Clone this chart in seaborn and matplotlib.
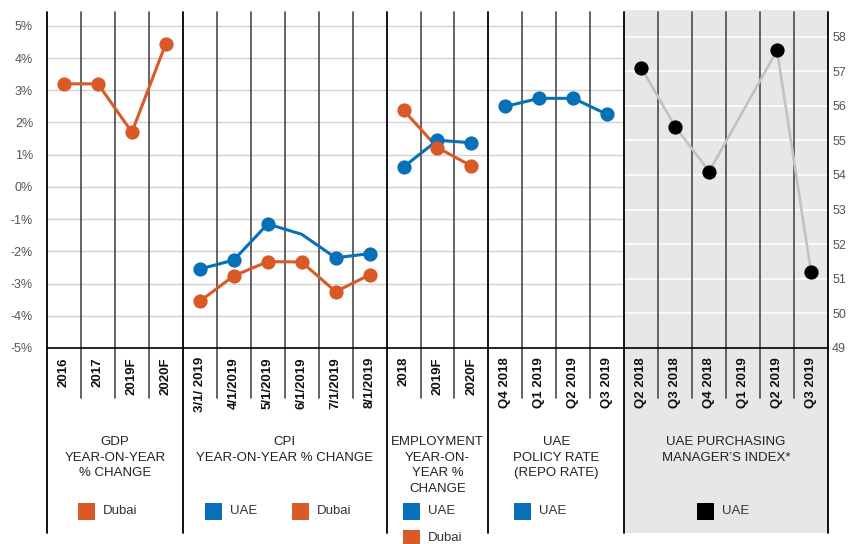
import numpy as np
import pandas as pd
import matplotlib
matplotlib.use("Agg")
import matplotlib.pyplot as plt
from matplotlib.patches import Rectangle
from matplotlib.transforms import blended_transform_factory
import seaborn as sns

# ---- category labels -------------------------------------------------------
gdp_labels = ["2016", "2017", "2019F", "2020F"]
cpi_labels = ["3/1/ 2019", "4/1/2019", "5/1/2019", "6/1/2019", "7/1/2019", "8/1/2019"]
emp_labels = ["2018", "2019F", "2020F"]
policy_labels = ["Q4 2018", "Q1 2019", "Q2 2019", "Q3 2019"]
pmi_labels = ["Q2 2018", "Q3 2018", "Q4 2018", "Q1 2019", "Q2 2019", "Q3 2019"]

# ---- series values (percent, PMI in index points) --------------------------
gdp_dubai = [3.2, 3.2, 1.7, 4.45]
cpi_uae = [-2.55, -2.27, -1.15, -1.47, -2.2, -2.07]
cpi_uae_has_marker = [True, True, True, False, True, True]
cpi_dubai = [-3.55, -2.76, -2.32, -2.33, -3.25, -2.73]
emp_uae = [0.62, 1.45, 1.37]
emp_dubai = [2.38, 1.22, 0.65]
policy_uae = [2.5, 2.75, 2.75, 2.25]
pmi_uae = [57.1, 55.4, 54.1, np.nan, 57.6, 51.2]

group_titles = [
    "GDP\nYEAR-ON-YEAR\n% CHANGE",
    "CPI\nYEAR-ON-YEAR % CHANGE",
    "EMPLOYMENT\nYEAR-ON-\nYEAR %\nCHANGE",
    "UAE\nPOLICY RATE\n(REPO RATE)",
    "UAE PURCHASING\nMANAGER\u2019S INDEX*",
]
left_ticks = list(range(-5, 6))
right_ticks = list(range(49, 59))

ORANGE = "#d95a27"
BLUE = "#0870b8"
BLACK = "#000000"
PANEL = "#e6e7e8"

sns.set_style("white")
plt.rcParams["font.family"] = ["Liberation Sans", "DejaVu Sans"]

W, H = 853, 544
fig = plt.figure(figsize=(W / 100, H / 100), dpi=100)
ax = fig.add_axes([47 / W, 1 - 348 / H, 781 / W, 336 / H])
ax.patch.set_visible(False)
for s in ax.spines.values():
    s.set_visible(False)

groups = [gdp_labels, cpi_labels, emp_labels, policy_labels, pmi_labels]
starts = np.cumsum([0] + [len(g) for g in groups])
all_labels = sum(groups, [])
n = len(all_labels)

ax.set_xlim(-0.5, n - 0.5)
ax.set_ylim(-5, 5.43)

ax2 = ax.twinx()
for s in ax2.spines.values():
    s.set_visible(False)
ax2.set_ylim(49, 58.71)

tr = blended_transform_factory(ax.transData, ax.transAxes)
tr_right = blended_transform_factory(ax.transData, ax2.transData)

def yfrac(py):
    return (348 - py) / 336

# shaded PMI panel
pmi_lo = starts[4] - 0.5
ax.add_patch(Rectangle((pmi_lo, yfrac(533)), n - 0.5 - pmi_lo, 1.006 - yfrac(533),
                       transform=tr, facecolor=PANEL, edgecolor="none",
                       zorder=0, clip_on=False))

# horizontal gridlines
ax.hlines(left_ticks[1:], -0.5, pmi_lo, colors="#d3d3d3", linewidth=1.0, zorder=0.5)
ax.hlines(right_ticks[1:], pmi_lo, n - 0.5, colors="white", linewidth=1.2,
          transform=tr_right, zorder=0.5)

# vertical separators
group_edges = set(s - 0.5 for s in starts)
for b in np.arange(-0.5, n, 1.0):
    if b in group_edges:
        ax.plot([b, b], [yfrac(533), 1.0], transform=tr, color="black",
                linewidth=1.3, zorder=1, clip_on=False)
    else:
        ax.plot([b, b], [yfrac(398), 1.0], transform=tr, color="#4a4a4a",
                linewidth=1.2, zorder=1, clip_on=False)

# baseline
ax.plot([-0.5, n - 0.5], [0, 0], transform=tr, color="black", linewidth=1.2,
        zorder=1.5, clip_on=False)

def xs(gi):
    return list(range(starts[gi], starts[gi + 1]))

def draw(axis, x, y, line_color, dot_color, lw=2.2, marker_mask=None):
    df = pd.DataFrame({"x": x, "y": y}).dropna()
    sns.lineplot(data=df, x="x", y="y", ax=axis, color=line_color,
                 linewidth=lw, zorder=3, sort=False)
    if marker_mask is not None:
        df = df[[m for m, v in zip(marker_mask, y) if not pd.isna(v)]]
    sns.scatterplot(data=df, x="x", y="y", ax=axis, color=dot_color, s=105,
                    linewidth=0, zorder=4)

draw(ax, xs(0), gdp_dubai, ORANGE, ORANGE)
draw(ax, xs(1), cpi_uae, BLUE, BLUE, marker_mask=cpi_uae_has_marker)
draw(ax, xs(1), cpi_dubai, ORANGE, ORANGE)
draw(ax, xs(2), emp_uae, BLUE, BLUE)
draw(ax, xs(2), emp_dubai, ORANGE, ORANGE)
draw(ax, xs(3), policy_uae, BLUE, BLUE)
draw(ax2, xs(4), pmi_uae, "#c2c2c2", BLACK, lw=1.9)

for a in (ax, ax2):
    a.set_xlabel("")
    a.set_ylabel("")
    a.grid(False)

ax.set_xlim(-0.5, n - 0.5)
ax.set_ylim(-5, 5.43)
ax2.set_ylim(49, 58.71)

ax.set_xticks(range(n))
ax.set_xticklabels(all_labels, rotation=90, fontsize=9.5, fontweight="bold",
                   color="#111111", va="top", ha="center")
ax.tick_params(axis="x", length=0, pad=6.5)
ax.set_yticks(left_ticks)
ax.set_yticklabels([f"{v}%" for v in left_ticks], fontsize=9, color="#555555")
ax.tick_params(axis="y", length=0, pad=10)
ax2.set_yticks(right_ticks)
ax2.set_yticklabels([str(v) for v in right_ticks], fontsize=9, color="#555555")
ax2.tick_params(axis="y", length=0, pad=3)

# group titles
for gi, title in enumerate(group_titles):
    cx = (starts[gi] + starts[gi + 1] - 1) / 2
    ax.text(cx, yfrac(436), title, transform=tr, ha="center", va="top",
            multialignment="center", fontsize=9.5, color="#222222",
            linespacing=1.4, clip_on=False)

# legend keys
def key(px, py, color, label):
    fig.patches.append(Rectangle((px / W, 1 - (py + 8.5) / H), 17 / W, 17 / H,
                                 transform=fig.transFigure, facecolor=color,
                                 edgecolor="none"))
    fig.text((px + 25) / W, 1 - py / H, label, ha="left", va="center",
             fontsize=9.5, color="#333333")

key(78, 511, ORANGE, "Dubai")
key(205, 511, BLUE, "UAE")
key(292, 511, ORANGE, "Dubai")
key(403, 511, BLUE, "UAE")
key(403, 538, ORANGE, "Dubai")
key(514, 511, BLUE, "UAE")
key(697, 511, BLACK, "UAE")

fig.savefig("out.png", dpi=100, facecolor="white")
